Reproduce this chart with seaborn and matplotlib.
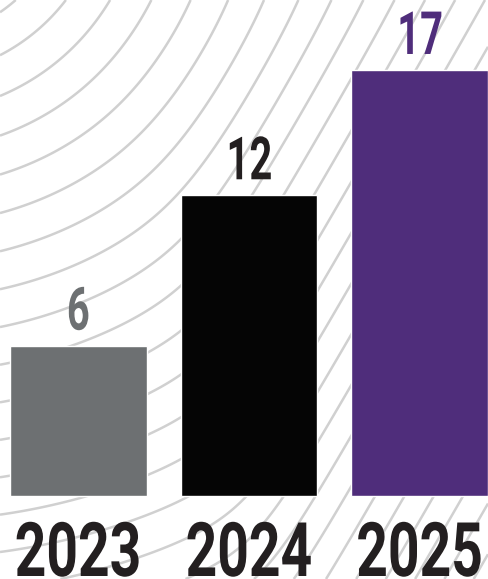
import numpy as np
import pandas as pd
import seaborn as sns
import matplotlib
matplotlib.use("Agg")
import matplotlib.pyplot as plt
from matplotlib.font_manager import FontProperties
from matplotlib.textpath import TextPath
from matplotlib.patheffects import AbstractPathEffect
from matplotlib.transforms import Affine2D

years = ["2023", "2024", "2025"]
counts = [6, 12, 17]
bar_colors = ["#6d7072", "#050505", "#4f2d7b"]
label_colors = ["#6d7072", "#231f20", "#4f2d7b"]

sns.set_theme(style="white")
plt.rcParams["font.family"] = ["Roboto", "DejaVu Sans"]

W, H = 488, 579
DPI = 100


class Squeeze(AbstractPathEffect):
    """draw text narrower (condensed look) while keeping it a text object"""

    def __init__(self, sx):
        super().__init__()
        self.sx = sx

    def draw_path(self, renderer, gc, tpath, affine, rgbFace=None):
        ext = tpath.get_extents()
        mid = (ext.x0 + ext.x1) / 2
        squeeze = Affine2D().translate(-mid, 0).scale(self.sx, 1).translate(mid, 0)
        renderer.draw_path(gc, tpath, squeeze + affine, rgbFace)


def fit_font(sample, height_px, width_px):
    # font size giving the wanted digit height, and the squeeze for the width
    prop = FontProperties(family="Roboto", weight="bold")
    ext = TextPath((0, 0), sample, size=10, prop=prop).get_extents()
    px = DPI / 72
    size = 10 * height_px / (ext.height * px)
    sx = width_px / (ext.width * size / 10 * px)
    return size, sx


fig = plt.figure(figsize=(W / DPI, H / DPI), dpi=DPI)

# decorative contour lines in the background (pixel coords)
bg = fig.add_axes([0, 0, 1, 1], zorder=0)
gx, gy = np.meshgrid(np.linspace(0, W, 490), np.linspace(0, H, 580))
r = np.hypot(gx + 90, gy + 120)
lin = 1.46 * (0.866 * (gx + 90) + 0.5 * (gy + 120)) - 175
s = 20
f = s * np.logaddexp(r / s, lin / s)
bg.contour(gx, gy, f, levels=np.arange(160, 1500, 37), colors="#d0d0d0", linewidths=1.8)
bg.set_xlim(0, W)
bg.set_ylim(H, 0)
bg.axis("off")

ax = fig.add_axes([0, 0, 1, 1], zorder=1)
ax.patch.set_alpha(0)
df = pd.DataFrame({"year": years, "count": counts})
sns.barplot(data=df, x="year", y="count", hue="year", palette=bar_colors,
            legend=False, width=0.8, saturation=1, ax=ax)

px_per_unit = 25.06
ax.set_xlim(-0.458, 2.4)
ax.set_ylim(-(H - 496) / px_per_unit, 496 / px_per_unit)
ax.axis("off")

val_size, val_sx = fit_font("12", 43, 41)
year_size, year_sx = fit_font("2023", 55, 122)

for i, (yr, v) in enumerate(zip(years, counts)):
    ax.annotate(str(v), (i, v), xytext=(0, 16 * 72 / DPI), textcoords="offset points",
                ha="center", va="baseline", fontsize=val_size, fontweight="bold",
                color=label_colors[i], path_effects=[Squeeze(val_sx)])
    ax.text(i, 3 / H, yr, transform=ax.get_xaxis_transform(), ha="center",
            va="baseline", fontsize=year_size, fontweight="bold", color="#231f20",
            path_effects=[Squeeze(year_sx)])

fig.savefig("out.png", dpi=DPI)
